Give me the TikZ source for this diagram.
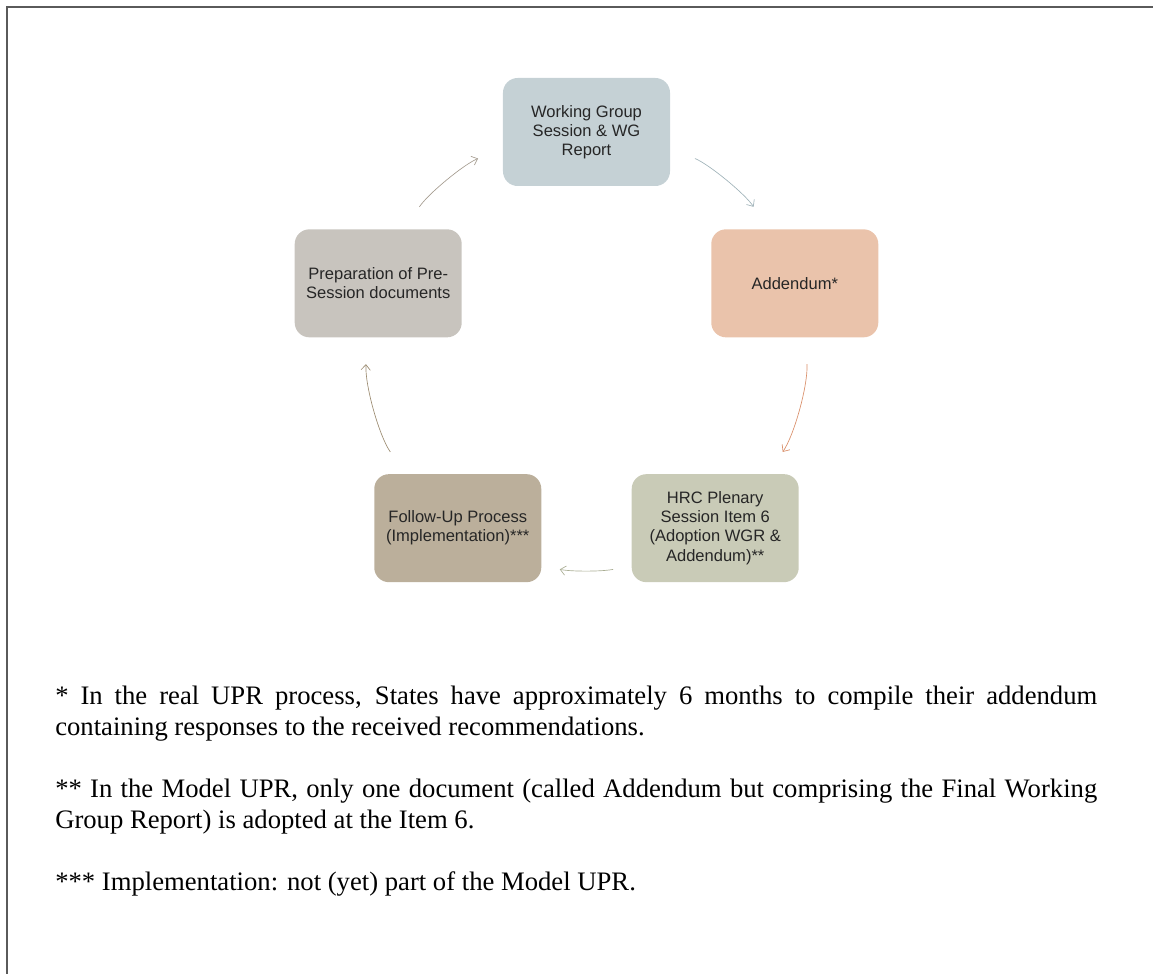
\documentclass[tikz,border=0pt]{standalone}
\usepackage{fontspec}
\setmainfont{Liberation Serif}
\setsansfont{Liberation Sans}
\usetikzlibrary{arrows.meta}

\definecolor{wgfill}{HTML}{C5D1D5}
\definecolor{addfill}{HTML}{EAC3AB}
\definecolor{hrcfill}{HTML}{C9CBB7}
\definecolor{fufill}{HTML}{BBAF9B}
\definecolor{prepfill}{HTML}{C8C4BE}
\definecolor{wgline}{HTML}{9FB2B8}
\definecolor{addline}{HTML}{D98F6A}
\definecolor{hrcline}{HTML}{A9AD93}
\definecolor{fuline}{HTML}{9C8C72}
\definecolor{prepline}{HTML}{A59C90}
\definecolor{framecol}{HTML}{5A5A5A}

\begin{document}
\begin{tikzpicture}[x=0.75pt, y=0.75pt,
    stage/.style={rectangle, rounded corners=11pt, minimum width=125.25pt, minimum height=81pt,
      inner sep=0pt, align=center, text=black!85, font=\sffamily\fontsize{12.4}{14.3}\selectfont},
    cyc/.style={-{Straight Barb[length=4pt,width=7pt]}, line width=0.5pt, looseness=0.85,
      shorten <=20pt, shorten >=20pt},
    note/.style={anchor=base west, text width=781.5pt, align=justify, inner sep=0pt,
      font=\fontsize{20}{23.25}\selectfont}]

  \useasboundingbox (-586.5,-623) rectangle (566.5,351);
  \draw[framecol, line width=1.1pt] (566.5,344) -- (-579.5,344) -- (-579.5,-623);

  % the five stages of the cycle
  \node[stage, fill=wgfill] (wg) at (90:219) {Working Group\\Session \& WG\\Report};
  \node[stage, fill=addfill] (add) at (18:219) {Addendum*};
  \node[stage, fill=hrcfill] (hrc) at (-54:219) {HRC Plenary\\Session Item 6\\(Adoption WGR \&\\Addendum)**};
  \node[stage, fill=fufill] (fu) at (-126:219) {Follow-Up Process\\(Implementation)***};
  \node[stage, fill=prepfill] (prep) at (162:219) {Preparation of Pre-\\Session documents};

  % arrows round the circle
  \draw[cyc, draw=prepline] (prep.64) to[bend left=17] (wg.191);
  \draw[cyc, draw=wgline] (wg.349) to[bend left=17] (add.116);
  \draw[cyc, draw=addline] (add.281) to[bend left=19] (hrc.46);
  \draw[cyc, draw=hrcline, shorten <=14pt, shorten >=14pt] (hrc.204) to[bend left=12] (fu.336);
  \draw[cyc, draw=fuline] (fu.134) to[bend left=19] (prep.259);

  % footnotes
  \node[note] (note1) at (-531.5,-353) {* In the real UPR process, States have approximately 6 months to compile their addendum\linebreak containing responses to the received recommendations.};
  \node[note] (note2) at (-531.5,-446) {** In the Model UPR, only one document (called Addendum but comprising the Final Working\linebreak Group Report) is adopted at the Item 6.};
  \node[note] (note3) at (-531.5,-539) {*** Implementation: not (yet) part of the Model UPR.};
\end{tikzpicture}
\end{document}
